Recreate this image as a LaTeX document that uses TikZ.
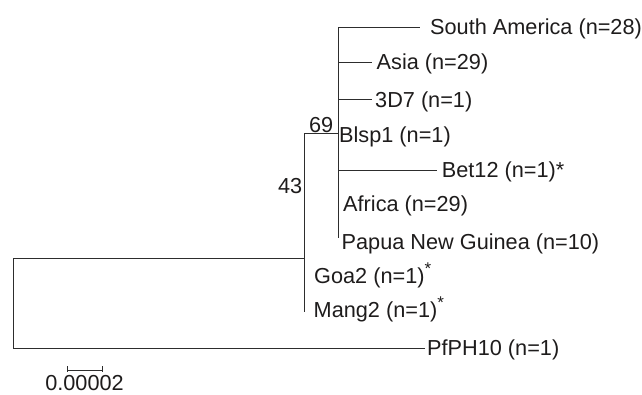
\documentclass[tikz,border=0pt]{standalone}
\usepackage{fontspec}
\setmainfont{Liberation Sans}
\definecolor{ink}{RGB}{30,28,28}
\definecolor{branch}{RGB}{45,45,45}
\begin{document}
\begin{tikzpicture}[x=1pt,y=-1pt,
  leaf/.style={anchor=base west, inner sep=0pt, text=ink, font=\fontsize{21.7}{24}\selectfont},
  boot/.style={anchor=base east, inner sep=0pt, text=ink, font=\fontsize{21.7}{24}\selectfont},
  br/.style={draw=branch, line width=1pt}]
\useasboundingbox (0,0) rectangle (642,394);
% internal nodes
\coordinate (r1) at (13,258);
\coordinate (r2) at (13,348);
\coordinate (a43) at (304,133);
\coordinate (b43) at (304,312);
\coordinate (j43) at (304,258);
\coordinate (a69) at (338,27);
\coordinate (b69) at (338,238);
\coordinate (j69) at (338,133);
% tips
\coordinate (tSA) at (420,27);
\coordinate (tAs) at (372,62);
\coordinate (t3D) at (372,99);
\coordinate (tBe) at (437,170);
\coordinate (tPf) at (425,348);
% labels
\node[leaf] (SA) at (430,34.7) {South America (n=28)};
\node[leaf] (As) at (376.5,69.4) {Asia (n=29)};
\node[leaf] (D7) at (375,107) {3D7 (n=1)};
\node[leaf] (Bl) at (339,142.7) {Blsp1 (n=1)};
\node[leaf] (Be) at (441.7,177.7) {Bet12 (n=1)*};
\node[leaf] (Af) at (343,211.7) {Africa (n=29)};
\node[leaf] (PN) at (341.5,249.7) {Papua New Guinea (n=10)};
\node[leaf] (Go) at (314,283.7) {Goa2 (n=1)\raisebox{9.5pt}{\fontsize{17}{17}\selectfont *}};
\node[leaf] (Ma) at (313.5,317.7) {Mang2 (n=1)\raisebox{9.5pt}{\fontsize{17}{17}\selectfont *}};
\node[leaf] (Pf) at (427,355.7) {PfPH10 (n=1)};
\node[boot] (L69) at (333.5,132.5) {69};
\node[boot] (L43) at (302.5,193.5) {43};
% branches
\draw[br] (tPf) -- (r2) -- (r1) -- (j43);
\draw[br] (a43) -- (b43);
\draw[br] (a43) -- (j69);
\draw[br] (a69) -- (b69);
\draw[br] (a69) -- (tSA);
\draw[br] (j69 |- tAs) -- (tAs);
\draw[br] (j69 |- t3D) -- (t3D);
\draw[br] (j69 |- tBe) -- (tBe);
% scale bar
\coordinate (s1) at (67,370);
\coordinate (s2) at (102,370);
\draw[br, line width=0.8pt] (s1) -- (s2);
\draw[br, line width=0.8pt] ([yshift=-1.5pt]s1) -- ([yshift=4pt]s1);
\draw[br, line width=0.8pt] ([yshift=-1.5pt]s2) -- ([yshift=4pt]s2);
\node[leaf, anchor=base] (sc) at (84.5,390.3) {0.00002};
\end{tikzpicture}
\end{document}
